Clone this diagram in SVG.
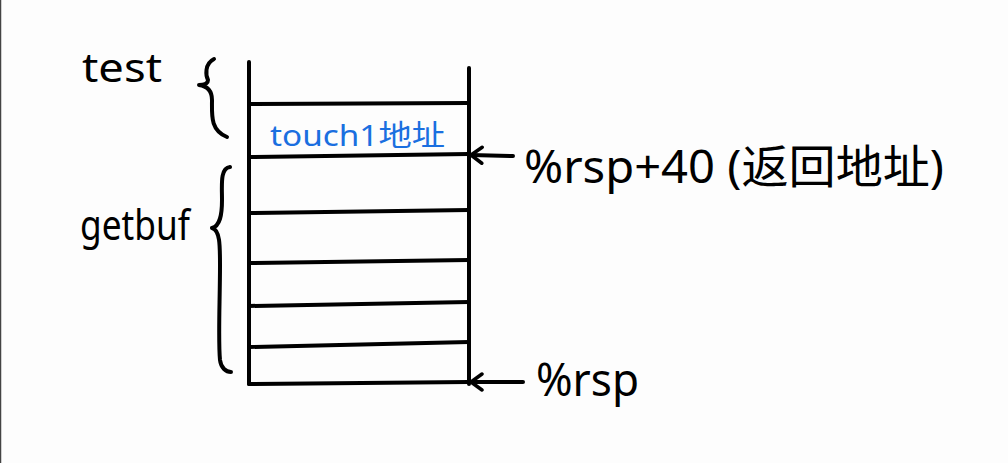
<svg xmlns="http://www.w3.org/2000/svg" width="1008" height="463" viewBox="0 0 1008 463">
<style>
.ln{stroke:#000;stroke-width:4;stroke-linecap:round;fill:none}
.br{stroke:#000;stroke-width:4;stroke-linecap:round;stroke-linejoin:round;fill:none}
.t{font-family:"Noto Sans","Noto Sans CJK SC",sans-serif;fill:#000}
.b{font-family:"Noto Sans","Noto Sans CJK SC",sans-serif;fill:#1a6fe0}
</style>
<defs>
<marker id="ah" viewBox="0 0 20 20" refX="18" refY="10" markerWidth="20" markerHeight="20" markerUnits="userSpaceOnUse" orient="auto">
<path d="M7 2 L18 10 L7 18" fill="none" stroke="#000" stroke-width="3.5" stroke-linecap="round" stroke-linejoin="round"/>
</marker>
</defs>
<rect width="1008" height="463" fill="#fdfdfd"/>
<line x1="0.5" y1="0" x2="0.5" y2="463" stroke="#444" stroke-width="1.5"/>
<g id="stack">
<line class="ln" x1="249" y1="62" x2="249" y2="384"/>
<line class="ln" x1="469" y1="68" x2="469" y2="384"/>
<line class="ln" x1="249" y1="104" x2="469" y2="103"/>
<line class="ln" x1="249" y1="157" x2="469" y2="154"/>
<line class="ln" x1="249" y1="213" x2="469" y2="210"/>
<line class="ln" x1="249" y1="263" x2="469" y2="260"/>
<line class="ln" x1="249" y1="306" x2="469" y2="302"/>
<line class="ln" x1="249" y1="347" x2="469" y2="342"/>
<line class="ln" x1="249" y1="384" x2="469" y2="382"/>
</g>
<g id="touch1">
<text class="b" x="270" y="146" font-size="29" textLength="175" lengthAdjust="spacingAndGlyphs">touch1地址</text>
</g>
<g id="test">
<text class="t" x="82" y="82" font-size="40" textLength="80" lengthAdjust="spacingAndGlyphs">test</text>
<path class="br" d="M214 59 C204 64 206 76 208 80 C208 84 204 85 199 85 C206 86 212 90 212 100 C212 115 210 130 227 137"/>
</g>
<g id="getbuf">
<text class="t" x="80" y="240" font-size="42" textLength="110" lengthAdjust="spacingAndGlyphs">getbuf</text>
<path class="br" d="M230 167 C220 168 222 185 222 200 C222 215 220 226 212 228 C220 230 220 245 220 265 C220 300 218 340 220 360 C221 368 226 372 231 372"/>
</g>
<g id="connectors">
<line class="ln" x1="513" y1="156" x2="471" y2="155" marker-end="url(#ah)"/>
<line class="ln" x1="523" y1="382" x2="471" y2="382" marker-end="url(#ah)"/>
</g>
<g id="label-rsp40">
<text class="t" x="524" y="183" font-size="46" textLength="420" lengthAdjust="spacingAndGlyphs">%rsp+40 (返回地址)</text>
</g>
<g id="label-rsp">
<text class="t" x="536" y="396" font-size="46" textLength="103" lengthAdjust="spacingAndGlyphs">%rsp</text>
</g>
</svg>
